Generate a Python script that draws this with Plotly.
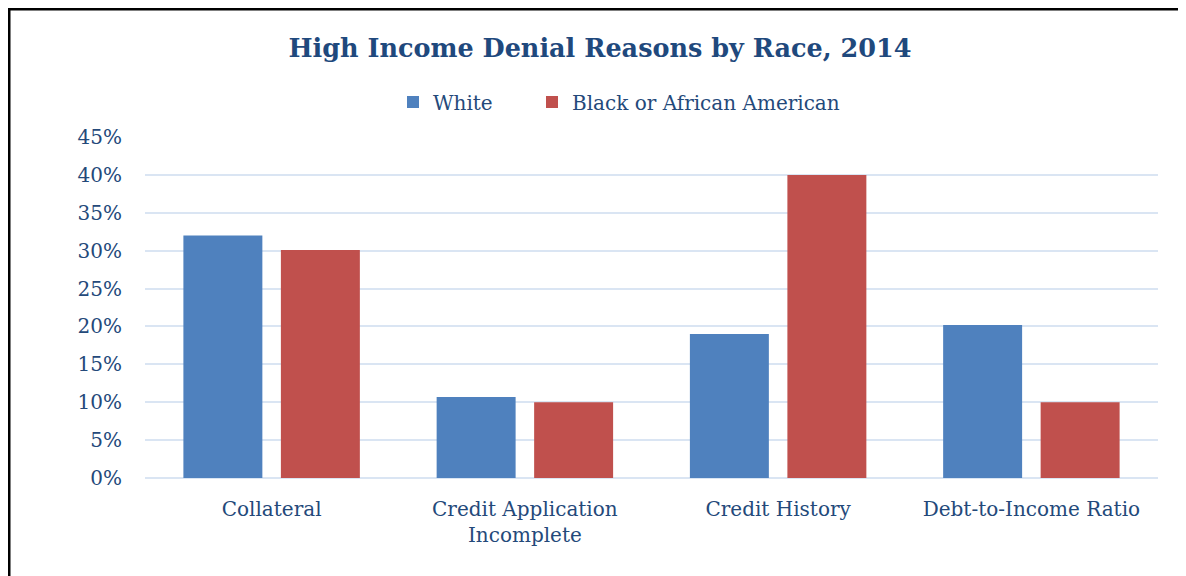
import plotly.graph_objects as go

categories = ["Collateral", "Credit Application<br>Incomplete", "Credit History", "Debt-to-Income Ratio"]
white = [0.32, 0.107, 0.19, 0.202]
black = [0.301, 0.10, 0.40, 0.10]
series_names = ["White", "Black or African American"]
tick_vals = [0, 0.05, 0.10, 0.15, 0.20, 0.25, 0.30, 0.35, 0.40, 0.45]
tick_text = ["0%", "5%", "10%", "15%", "20%", "25%", "30%", "35%", "40%", "45%"]

FONT = "DejaVu Serif"
TXT = "#24497a"

fig = go.Figure()
fig.add_trace(go.Bar(x=categories, y=white, name=series_names[0], legend="legend",
                     showlegend=True,
                     marker=dict(color="#4f81be", line=dict(width=0))))
fig.add_trace(go.Bar(x=categories, y=black, name=series_names[1], legend="legend2",
                     showlegend=True,
                     marker=dict(color="#c0504d", line=dict(width=0))))

# the page body adds an 8px offset; work in page coords and subtract it
OFF = 8
W, H = 1186 - OFF, 576 - OFF
L, R, T, B = 145 - OFF, 1186 - 1158, 137 - OFF, 576 - 478
pw, ph = W - L - R, H - T - B

def px(x):
    return (x - OFF - L) / pw

def py(y):
    return (H - B - (y - OFF)) / ph

legend_style = dict(orientation="h", xref="paper", yref="paper", xanchor="left",
                    y=py(102), yanchor="middle", visible=True,
                    bgcolor="rgba(0,0,0,0)",
                    font=dict(family=FONT, size=20, color=TXT), itemwidth=30)

fig.update_layout(
    width=W, height=H, showlegend=True,
    margin=dict(l=L, r=R, t=T, b=B, autoexpand=False),
    paper_bgcolor="white", plot_bgcolor="white",
    barmode="group", bargap=0.23, bargroupgap=0.19,
    title=dict(text="<b>High Income Denial Reasons by Race, 2014</b>",
               x=(600 - OFF) / W, xanchor="center",
               y=1 - (48 - OFF) / H, yanchor="middle",
               font=dict(family=FONT, size=25.5, color="#1f497d")),
    legend=dict(x=px(393), **legend_style),
    legend2=dict(x=px(532), **legend_style),
    font=dict(family=FONT, color=TXT),
    xaxis=dict(showgrid=False, showline=False, ticks="", automargin=False,
               tickfont=dict(family=FONT, size=20, color=TXT),
               ticklabelstandoff=17),
    yaxis=dict(range=[0, 0.45], tickvals=tick_vals, ticktext=tick_text,
               automargin=False,
               showgrid=True, gridcolor="#dae5f3", gridwidth=2,
               zeroline=True, zerolinecolor="#dae5f3", zerolinewidth=2,
               showline=False, ticks="",
               tickfont=dict(family=FONT, size=20, color=TXT),
               ticklabelstandoff=22),
    shapes=[dict(type="rect", xref="paper", yref="paper",
                 x0=px(9), x1=px(1240), y0=py(640), y1=py(9),
                 line=dict(color="black", width=3), fillcolor="rgba(0,0,0,0)",
                 layer="above")],
)

fig.write_html("out.html")
